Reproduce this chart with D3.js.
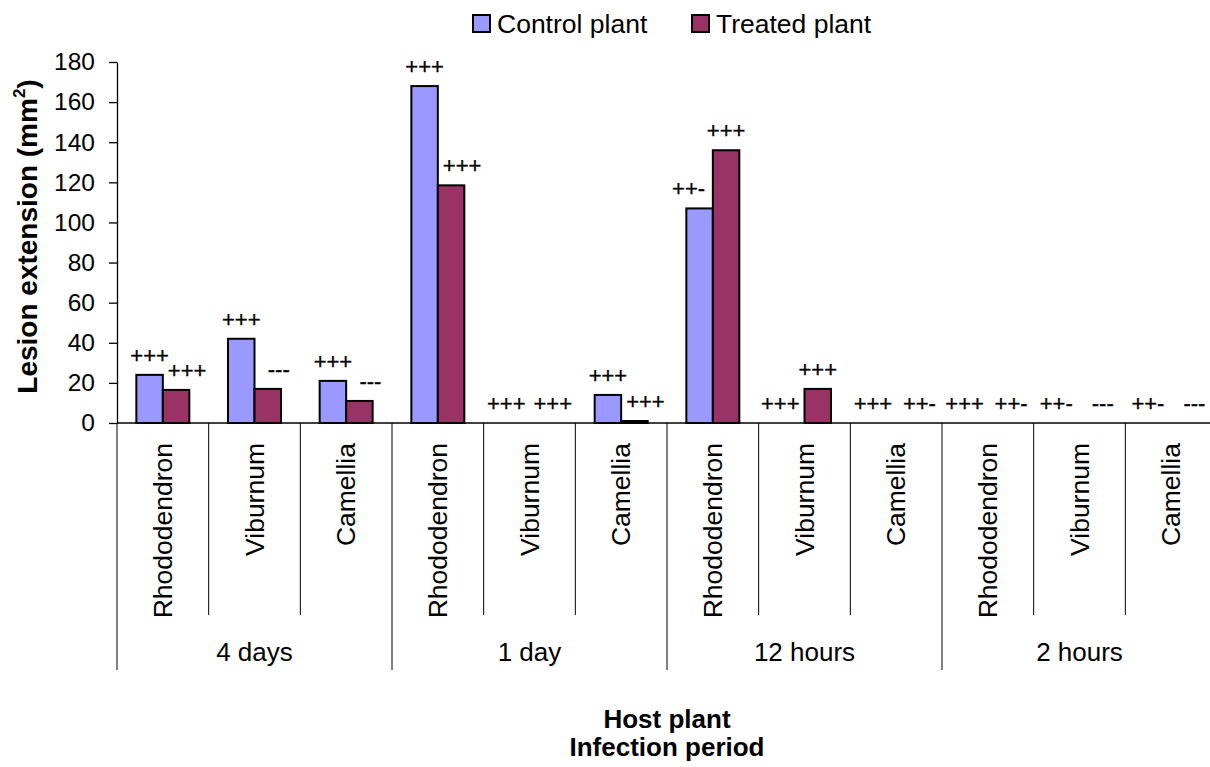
<!DOCTYPE html>
<html>
<head>
<meta charset="utf-8">
<script src="https://cdn.jsdelivr.net/npm/d3@7"></script>
<style>
  html, body { margin: 0; padding: 0; background: #fff; }
  svg { display: block; font-family: "Liberation Sans", Arial, sans-serif; }
</style>
</head>
<body>
<svg id="chart" width="1210" height="767"></svg>
<script>
// ---- data ----
const groups = ["4 days", "1 day", "12 hours", "2 hours"];
const hosts = ["Rhododendron", "Viburnum", "Camellia"];
const seriesNames = ["Control plant", "Treated plant"];
const controlValues = [24, 42, 21, 168, 0, 14, 107, 0, 0, 0, 0, 0];
const treatedValues = [16.5, 17, 11, 118.5, 0, 1, 136, 17, 0, 0, 0, 0];
const controlLabels = ["+++", "+++", "+++", "+++", "+++", "+++", "++-", "+++", "+++", "+++", "++-", "++-"];
const treatedLabels = ["+++", "---", "---", "+++", "+++", "+++", "+++", "+++", "++-", "++-", "---", "---"];
const yTicks = [0, 20, 40, 60, 80, 100, 120, 140, 160, 180];

// ---- styles ----
const colors = ["#9999FF", "#993366"];

const categories = [];
groups.forEach((g, gi) => hosts.forEach((h, hi) => categories.push({ idx: gi * hosts.length + hi, group: g, host: h })));

const svg = d3.select("#chart");
const pL = 117, pR = 1217, pT = 62, pB = 423;

const x0 = d3.scaleBand().domain(categories.map(d => d.idx)).range([pL, pR]).padding(0);
const x1 = d3.scaleBand().domain([0, 1]).range([0, x0.bandwidth()]).paddingInner(0).paddingOuter(0.73);
const y = d3.scaleLinear().domain([0, 180]).range([pB, pT]);

// y axis
const yAxis = svg.append("g").attr("transform", `translate(${pL},0)`)
  .call(d3.axisLeft(y).tickValues(yTicks).tickSize(8).tickPadding(14).tickSizeOuter(0));
yAxis.select(".domain").attr("stroke", "#000").attr("stroke-width", 1.3);
yAxis.selectAll(".tick line").attr("stroke", "#000").attr("stroke-width", 1.3);
yAxis.selectAll(".tick text").attr("font-size", 24.5).attr("fill", "#000")
  .attr("font-family", "'Liberation Sans', Arial, sans-serif");

// x axis line
svg.append("line").attr("x1", pL).attr("x2", pR).attr("y1", pB).attr("y2", pB)
  .attr("stroke", "#000").attr("stroke-width", 1.3);

// category separators
const seps = d3.range(categories.length + 1);
svg.append("g").selectAll("line").data(seps).join("line")
  .attr("x1", i => i < categories.length ? x0(i) : pR)
  .attr("x2", i => i < categories.length ? x0(i) : pR)
  .attr("y1", pB)
  .attr("y2", i => (i % hosts.length === 0) ? 670 : 615)
  .attr("stroke", "#000").attr("stroke-width", 1);

// category labels
svg.append("g").selectAll("text").data(categories).join("text")
  .attr("transform", d => `translate(${x0(d.idx) + x0.bandwidth() / 2},443) rotate(-90)`)
  .attr("dy", "0.35em")
  .attr("text-anchor", "end")
  .attr("font-size", 26.5)
  .text(d => d.host);

// group labels
svg.append("g").selectAll("text").data(groups).join("text")
  .attr("x", (g, gi) => {
    const a = x0(gi * hosts.length);
    const bIdx = gi * hosts.length + hosts.length;
    const b = bIdx < categories.length ? x0(bIdx) : pR;
    return (a + b) / 2;
  })
  .attr("y", 661)
  .attr("text-anchor", "middle")
  .attr("font-size", 26)
  .text(g => g);

// bars
const barData = [];
categories.forEach(c => {
  barData.push({ cat: c.idx, s: 0, v: controlValues[c.idx], label: controlLabels[c.idx], other: treatedValues[c.idx] });
  barData.push({ cat: c.idx, s: 1, v: treatedValues[c.idx], label: treatedLabels[c.idx], other: controlValues[c.idx] });
});

svg.append("g").selectAll("rect").data(barData.filter(d => d.v > 0)).join("rect")
  .attr("x", d => x0(d.cat) + x1(d.s))
  .attr("width", x1.bandwidth())
  .attr("y", d => y(d.v))
  .attr("height", d => y(0) - y(d.v))
  .attr("fill", d => colors[d.s])
  .attr("stroke", "#000").attr("stroke-width", 2);

// data labels
svg.append("g").selectAll("text").data(barData).join("text")
  .attr("x", d => {
    const cx = x0(d.cat) + x1(d.s) + x1.bandwidth() / 2;
    const dir = d.s === 0 ? -1 : 1;
    let shift = 0;
    if (d.v === d.other) shift = 10;
    else if (d.v < d.other) {
      const labBase = y(d.v) - 12;
      const otherTop = y(d.other);
      if (labBase + 4 > otherTop - 20) shift = 11;
    }
    return cx + dir * shift;
  })
  .attr("y", d => y(d.v) - 12)
  .attr("text-anchor", "middle")
  .attr("font-size", 22)
  .attr("stroke", "#000").attr("stroke-width", 0.3)
  .text(d => d.label);

// legend
const legend = svg.append("g");
const legX = [473, 692];
seriesNames.forEach((n, i) => {
  legend.append("rect").attr("x", legX[i]).attr("y", 15).attr("width", 17).attr("height", 17)
    .attr("fill", colors[i]).attr("stroke", "#000").attr("stroke-width", 2);
  legend.append("text").attr("x", legX[i] + 24).attr("y", 33).attr("font-size", 26.5).text(n);
});

// y title
const yt = svg.append("text")
  .attr("transform", `translate(37,${(pT + pB) / 2 - 6}) rotate(-90)`)
  .attr("text-anchor", "middle")
  .attr("font-size", 28).attr("font-weight", "bold");
yt.append("tspan").text("Lesion extension (mm");
yt.append("tspan").attr("font-size", 17).attr("dy", -12).text("2");
yt.append("tspan").attr("dy", 12).text(")");

// x titles
const xc = (pL + pR) / 2;
svg.append("text").attr("x", xc).attr("y", 728).attr("text-anchor", "middle")
  .attr("font-size", 26).attr("font-weight", "bold").text("Host plant");
svg.append("text").attr("x", xc).attr("y", 756).attr("text-anchor", "middle")
  .attr("font-size", 26).attr("font-weight", "bold").text("Infection period");
</script>
</body>
</html>
